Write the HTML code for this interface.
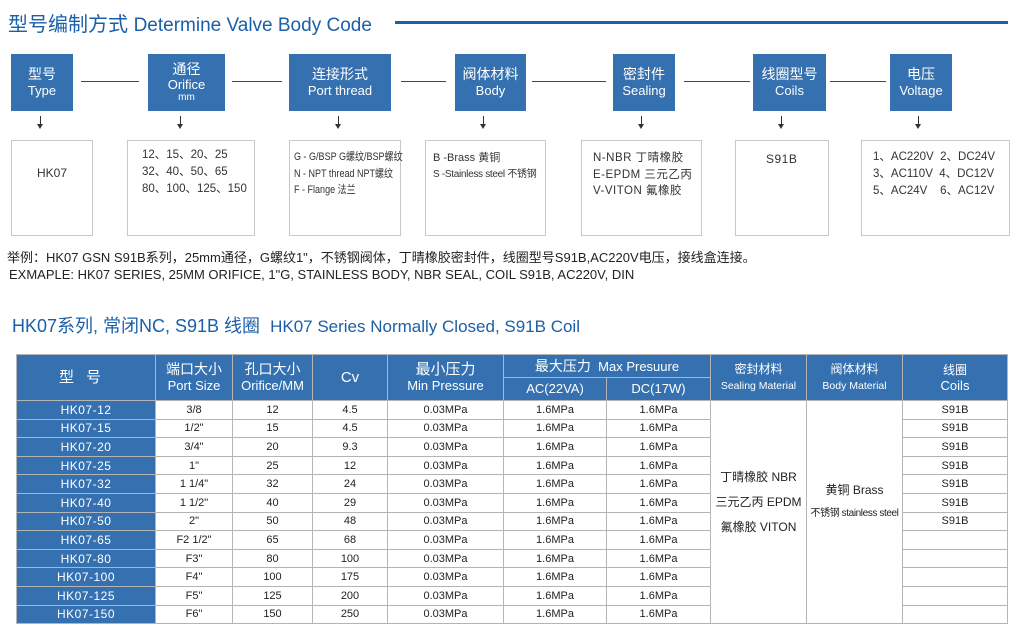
<!DOCTYPE html>
<html><head><meta charset="utf-8"><style>
*{margin:0;padding:0;box-sizing:border-box}
body{width:1020px;height:633px;background:#fff;position:relative;overflow:hidden;font-family:"Liberation Sans","Noto Sans CJK SC",sans-serif;color:#222}
.a{position:absolute}
.bb{position:absolute;background:#3571b0;color:#fff;text-align:center;top:54px;height:57px;display:flex;flex-direction:column;justify-content:center;line-height:1.25}
.bb .c{font-size:14px}.bb .e{font-size:13px}
.ln{position:absolute;top:81px;height:1px;background:#444}
.ar{position:absolute;top:116px;width:1px;height:10px;background:#333}
.ar:after{content:"";position:absolute;left:-3px;top:8px;border-left:3.5px solid transparent;border-right:3.5px solid transparent;border-top:5px solid #333}
.wb{position:absolute;top:140px;height:96px;border:1.5px solid #c8c8c8;font-size:11.5px;color:#333}
table{position:absolute;left:16px;top:354px;border-collapse:collapse;table-layout:fixed;width:991px}
td{border:1.5px solid #b4b4b4;text-align:center;font-size:11px;height:18.6px;padding:0;line-height:14px}
.h td{background:#3571b0;color:#fff;font-size:13px;line-height:16px}
td.k{background:#3571b0;color:#fff;font-size:12px;letter-spacing:.5px}
</style></head><body>
<div class="a" style="left:8px;top:8px;font-size:20px;color:#1a5fa8;white-space:nowrap">型号编制方式 <span style="font-size:19px">Determine Valve Body Code</span></div>
<div class="a" style="left:395px;top:21px;width:613px;height:3px;background:#1a5fa8"></div>

<div class="bb" style="left:11px;width:62px"><div class="c">型号</div><div class="e">Type</div></div>
<div class="bb" style="left:148px;width:77px;line-height:1.1"><div class="c">通径</div><div class="e">Orifice</div><div style="font-size:10px">mm</div></div>
<div class="bb" style="left:289px;width:102px"><div class="c">连接形式</div><div class="e">Port thread</div></div>
<div class="bb" style="left:455px;width:71px"><div class="c">阀体材料</div><div class="e">Body</div></div>
<div class="bb" style="left:613px;width:62px"><div class="c">密封件</div><div class="e">Sealing</div></div>
<div class="bb" style="left:753px;width:73px"><div class="c">线圈型号</div><div class="e">Coils</div></div>
<div class="bb" style="left:890px;width:62px"><div class="c">电压</div><div class="e">Voltage</div></div>

<div class="ln" style="left:81px;width:58px"></div>
<div class="ln" style="left:232px;width:50px"></div>
<div class="ln" style="left:401px;width:45px"></div>
<div class="ln" style="left:532px;width:74px"></div>
<div class="ln" style="left:684px;width:66px"></div>
<div class="ln" style="left:830px;width:56px"></div>

<div class="ar" style="left:40px"></div><div class="ar" style="left:180px"></div><div class="ar" style="left:338px"></div><div class="ar" style="left:483px"></div><div class="ar" style="left:641px"></div><div class="ar" style="left:781px"></div><div class="ar" style="left:918px"></div>

<div class="wb" style="left:11px;width:82px"><div style="position:absolute;top:25px;width:100%;text-align:center;font-size:12px">HK07</div></div>
<div class="wb" style="left:127px;width:128px;padding:6px 0 0 14px;line-height:17px;font-size:11.5px">12、15、20、25<br>32、40、50、65<br>80、100、125、150</div>
<div class="wb" style="left:289px;width:112px;padding:8px 0 0 4px;line-height:16.5px;font-size:11px;white-space:nowrap"><div style="transform:scaleX(0.82);transform-origin:0 0">G - G/BSP G螺纹/BSP螺纹<br>N - NPT thread NPT螺纹<br>F - Flange 法兰</div></div>
<div class="wb" style="left:425px;width:121px;padding:9px 0 0 7px;line-height:16px;font-size:11px;white-space:nowrap">B -Brass 黄铜<br><span style="font-size:10px;letter-spacing:-.3px">S -Stainless steel 不锈钢</span></div>
<div class="wb" style="left:581px;width:121px;padding:9px 0 0 11px;line-height:16.5px;font-size:11.5px;letter-spacing:.5px;white-space:nowrap">N-NBR 丁晴橡胶<br>E-EPDM 三元乙丙<br>V-VITON 氟橡胶</div>
<div class="wb" style="left:735px;width:94px;padding:11px 0 0 30px;font-size:12px;letter-spacing:.5px">S91B</div>
<div class="wb" style="left:861px;width:149px;padding:8px 0 0 11px;line-height:17px;font-size:11.5px;white-space:pre">1、AC220V  2、DC24V
3、AC110V  4、DC12V
5、AC24V    6、AC12V</div>

<div class="a" style="left:7px;top:247px;font-size:13px;white-space:nowrap">举例：HK07 GSN S91B系列，25mm通径，G螺纹1"，不锈钢阀体，丁晴橡胶密封件，线圈型号S91B,AC220V电压，接线盒连接。</div>
<div class="a" style="left:9px;top:267px;font-size:13px;white-space:nowrap">EXMAPLE: HK07 SERIES, 25MM ORIFICE, 1"G, STAINLESS BODY, NBR SEAL, COIL S91B, AC220V, DIN</div>
<div class="a" style="left:12px;top:312px;font-size:18px;color:#1a5fa8;white-space:nowrap">HK07系列, 常闭NC, S91B 线圈 &nbsp;<span style="font-size:17px">HK07 Series Normally Closed, S91B Coil</span></div>

<table>
<colgroup><col style="width:139px"><col style="width:77px"><col style="width:80px"><col style="width:75px"><col style="width:116px"><col style="width:103px"><col style="width:104px"><col style="width:96px"><col style="width:96px"><col style="width:105px"></colgroup>
<tr class="h" style="height:23px"><td rowspan="2" style="font-size:15px;letter-spacing:12px">型号</td><td rowspan="2"><span style="font-size:14px">端口大小</span><br>Port Size</td><td rowspan="2"><span style="font-size:14px">孔口大小</span><br>Orifice/MM</td><td rowspan="2" style="font-size:15px">Cv</td><td rowspan="2"><span style="font-size:15px">最小压力</span><br>Min Pressure</td><td colspan="2"><span style="font-size:14px">最大压力</span> &nbsp;Max Presuure</td><td rowspan="2"><span style="font-size:12px">密封材料</span><br><span style="font-size:10.5px">Sealing Material</span></td><td rowspan="2"><span style="font-size:12px">阀体材料</span><br><span style="font-size:10.5px">Body Material</span></td><td rowspan="2"><span style="font-size:12px">线圈</span><br>Coils</td></tr>
<tr class="h" style="height:23px"><td>AC(22VA)</td><td>DC(17W)</td></tr>
<tr><td class="k">HK07-12</td><td>3/8</td><td>12</td><td>4.5</td><td>0.03MPa</td><td>1.6MPa</td><td>1.6MPa</td><td rowspan="12" style="font-size:12px;line-height:25px;padding-bottom:20px">丁晴橡胶 NBR<br>三元乙丙 EPDM<br>氟橡胶 VITON</td><td rowspan="12" style="line-height:22px;padding-bottom:20px"><span style="font-size:12px">黄铜 Brass</span><br><span style="font-size:10px;letter-spacing:-.4px">不锈钢 stainless steel</span></td><td>S91B</td></tr>
<tr><td class="k">HK07-15</td><td>1/2"</td><td>15</td><td>4.5</td><td>0.03MPa</td><td>1.6MPa</td><td>1.6MPa</td><td>S91B</td></tr>
<tr><td class="k">HK07-20</td><td>3/4"</td><td>20</td><td>9.3</td><td>0.03MPa</td><td>1.6MPa</td><td>1.6MPa</td><td>S91B</td></tr>
<tr><td class="k">HK07-25</td><td>1"</td><td>25</td><td>12</td><td>0.03MPa</td><td>1.6MPa</td><td>1.6MPa</td><td>S91B</td></tr>
<tr><td class="k">HK07-32</td><td>1 1/4"</td><td>32</td><td>24</td><td>0.03MPa</td><td>1.6MPa</td><td>1.6MPa</td><td>S91B</td></tr>
<tr><td class="k">HK07-40</td><td>1 1/2"</td><td>40</td><td>29</td><td>0.03MPa</td><td>1.6MPa</td><td>1.6MPa</td><td>S91B</td></tr>
<tr><td class="k">HK07-50</td><td>2"</td><td>50</td><td>48</td><td>0.03MPa</td><td>1.6MPa</td><td>1.6MPa</td><td>S91B</td></tr>
<tr><td class="k">HK07-65</td><td>F2 1/2"</td><td>65</td><td>68</td><td>0.03MPa</td><td>1.6MPa</td><td>1.6MPa</td><td></td></tr>
<tr><td class="k">HK07-80</td><td>F3"</td><td>80</td><td>100</td><td>0.03MPa</td><td>1.6MPa</td><td>1.6MPa</td><td></td></tr>
<tr><td class="k">HK07-100</td><td>F4"</td><td>100</td><td>175</td><td>0.03MPa</td><td>1.6MPa</td><td>1.6MPa</td><td></td></tr>
<tr><td class="k">HK07-125</td><td>F5"</td><td>125</td><td>200</td><td>0.03MPa</td><td>1.6MPa</td><td>1.6MPa</td><td></td></tr>
<tr><td class="k">HK07-150</td><td>F6"</td><td>150</td><td>250</td><td>0.03MPa</td><td>1.6MPa</td><td>1.6MPa</td><td></td></tr>
</table>
</body></html>
